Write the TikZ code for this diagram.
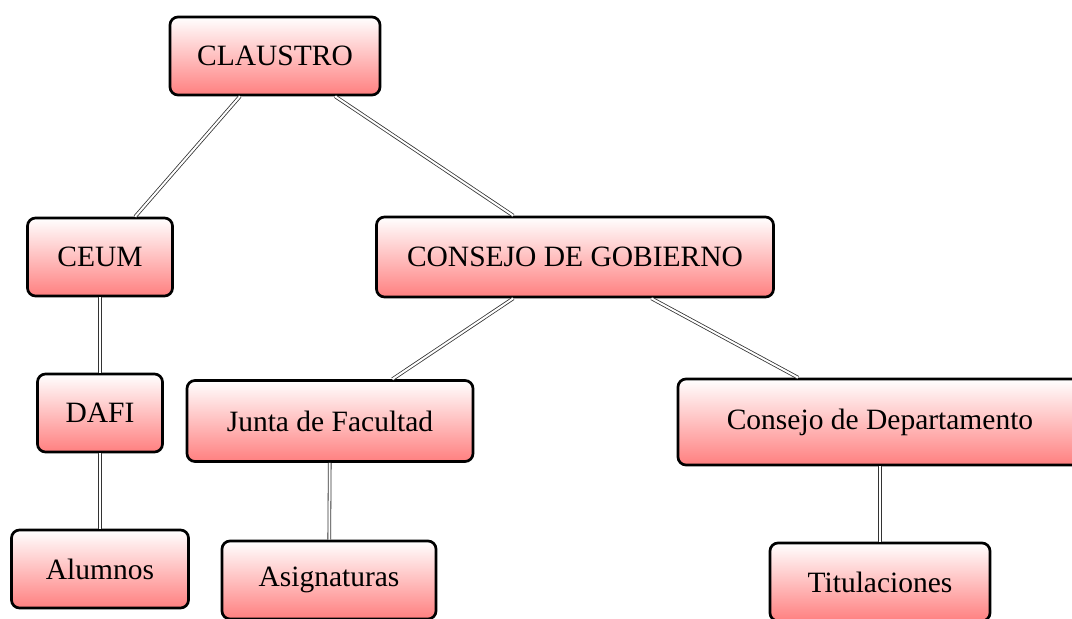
\documentclass[tikz,border=0pt]{standalone}
\usepackage{fontspec}
\setmainfont{Liberation Serif}
\tikzset{
  box/.style={draw=black, line width=2.7pt, rounded corners=8pt,
    top color=white, bottom color=red!50, minimum height=78pt,
    inner xsep=10pt, font=\fontsize{29.5}{34}\selectfont},
  link/.style={double, double distance=2pt, line width=0.8pt, draw=black!80}
}
\begin{document}
\begin{tikzpicture}[x=1pt,y=-1pt]
\useasboundingbox (0,0) rectangle (1072,619);
\node[box, minimum width=210pt] (cl) at (275,56) {CLAUSTRO};
\node[box, minimum width=145pt] (ce) at (100,257) {CEUM};
\node[box, minimum width=397pt, minimum height=80pt] (cg) at (575,257) {CONSEJO DE GOBIERNO};
\node[box, minimum width=125pt] (da) at (100,413) {DAFI};
\node[box, minimum width=286pt, minimum height=81pt] (jf) at (330,421) {Junta de Facultad};
\node[box, minimum width=404pt, minimum height=86pt] (cd) at (880,422) {Consejo de Departamento};
\node[box, minimum width=177pt] (al) at (100,569) {Alumnos};
\node[box, minimum width=214pt] (as) at (329,580) {Asignaturas};
\node[box, minimum width=220pt] (ti) at (880,582) {Titulaciones};
\draw[link] (cl) -- (ce);
\draw[link] (cl) -- (cg);
\draw[link] (ce) -- (da);
\draw[link] (da) -- (al);
\draw[link] (cg) -- (jf);
\draw[link] (cg) -- (cd);
\draw[link] (jf) -- (as);
\draw[link] (cd) -- (ti);
\end{tikzpicture}
\end{document}
